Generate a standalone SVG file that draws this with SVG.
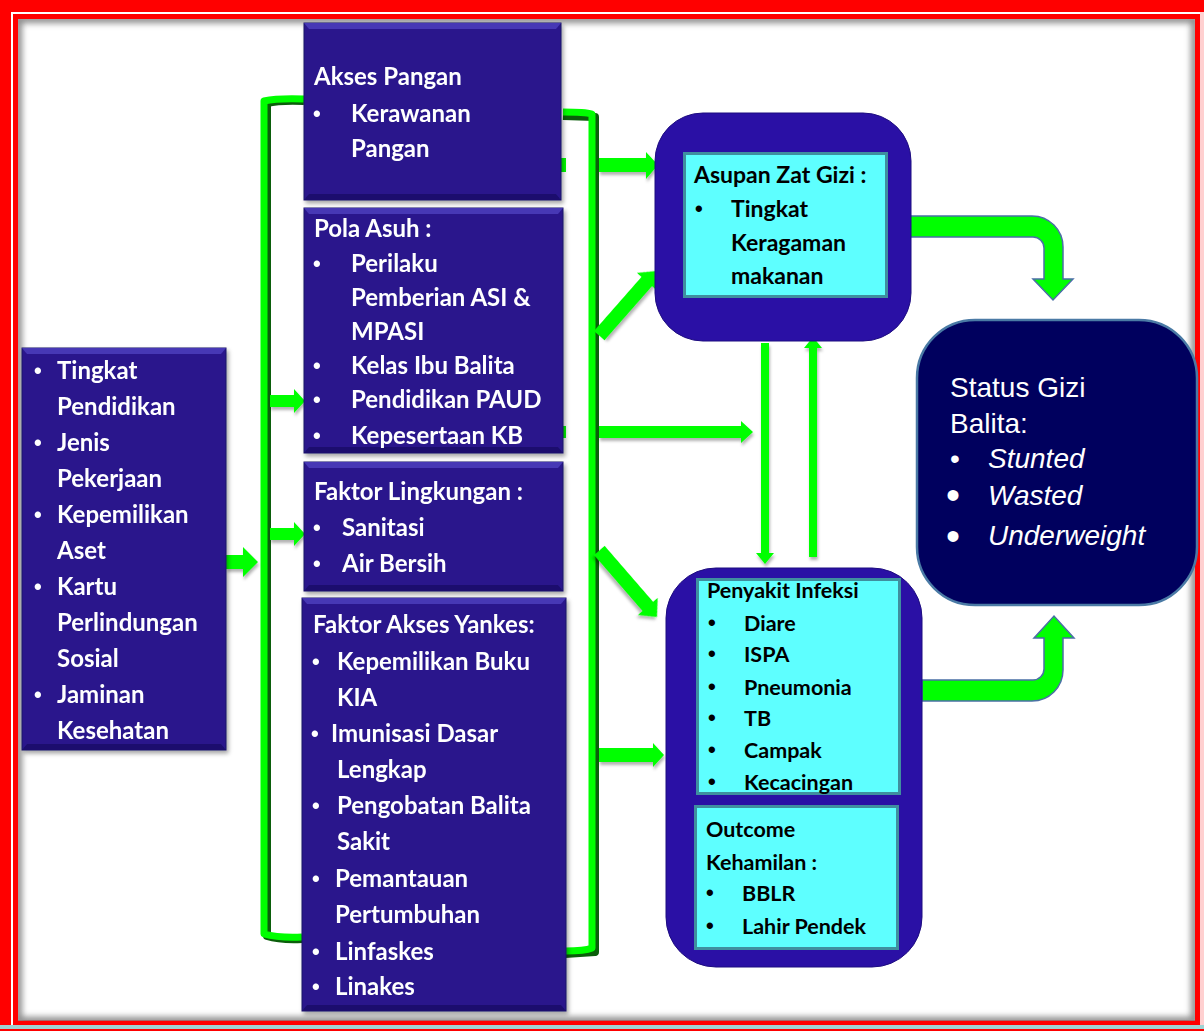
<svg xmlns="http://www.w3.org/2000/svg" width="1204" height="1031" viewBox="0 0 1204 1031">
<defs>
<style>
.nb{fill:#29198c;stroke:#1a0f66;stroke-width:1}
.hl{fill:#4637b5}
.dk{fill:#1c106e}
.wt{font-family:Lato,"Open Sans",sans-serif;font-weight:bold;font-size:24px;fill:#ffffff}
.bt{font-family:Lato,"Open Sans",sans-serif;font-weight:bold;font-size:23px;fill:#000000}
.bt2{font-family:Lato,"Open Sans",sans-serif;font-weight:bold;font-size:21.5px;fill:#000000}
.bu{font-family:"Liberation Sans",Arial,sans-serif;font-weight:bold;font-size:22px}
.st{font-family:"Liberation Sans",Arial,sans-serif;font-size:28px;fill:#ffffff}
.bb{font-size:40px}
.it{font-style:italic}
.cy{fill:#5effff;stroke:#3f8f9f;stroke-width:3}
.outer{fill:#2a10a5;stroke:#1d0c80;stroke-width:1}
.g{fill:#00ff00}
.gs{fill:none;stroke:#00ff00;stroke-width:7;stroke-linejoin:round}
.gd{fill:none;stroke:#0b5e0b;stroke-width:8;stroke-linejoin:round}
.ca{fill:#00ff00;stroke:#4a6fa5;stroke-width:1.5}
</style>
<filter id="sh" x="-10%" y="-10%" width="130%" height="130%">
<feDropShadow dx="2" dy="3" stdDeviation="2" flood-color="#000" flood-opacity="0.35"/>
</filter>
<filter id="ash" x="-20%" y="-40%" width="150%" height="200%">
<feDropShadow dx="1" dy="3" stdDeviation="1.5" flood-color="#000" flood-opacity="0.3"/>
</filter>
<filter id="blur"><feGaussianBlur stdDeviation="3"/></filter>
<clipPath id="inner"><rect x="18" y="19" width="1177" height="1002"/></clipPath>
</defs>

<!-- frame -->
<g id="frame">
<rect x="0" y="0" width="1204" height="1031" fill="#ffffff"/>
<rect x="1200" y="0" width="4" height="1031" fill="#ffd0d0"/>
<rect x="0" y="1025" width="1204" height="4" fill="#9fd3d3"/>
<rect x="0" y="1029" width="1204" height="2" fill="#ff0000"/>
<rect x="0" y="0" width="11" height="1025" fill="#ff0000"/>
<rect x="0" y="0" width="1204" height="12" fill="#ff0000"/>
<rect x="15.5" y="16.5" width="1182" height="1006" fill="none" stroke="#ff0000" stroke-width="5"/>
<g clip-path="url(#inner)">
<rect x="18" y="19" width="1177" height="1002" fill="none" stroke="#8a8a8a" stroke-width="8" filter="url(#blur)"/>
</g>
</g>

<!-- connectors -->
<g id="connectors">
<!-- left bracket -->
<path class="gd" d="M304,101 Q280,100 267,103 L267,936 Q280,940 302,939"/>
<path class="gs" d="M304,99 Q278,98 264,101 L264,934 Q278,938 302,937"/>
<!-- right bracket -->
<path class="gd" d="M563,116 L595,117 L595,952 L565,954"/>
<path class="gs" d="M563,112 Q585,112 592,114 L592,948 Q585,951 565,951"/>
<!-- left box to bracket -->
<polygon class="g" filter="url(#ash)" points="226,555 243,555 243,547 258,562 243,577 243,569 226,569"/>
<!-- bracket to Pola Asuh -->
<polygon class="g" filter="url(#ash)" points="270,395 294,395 294,389 305,401 294,413 294,407 270,407"/>
<!-- bracket to Faktor Lingkungan -->
<polygon class="g" filter="url(#ash)" points="270,528 294,528 294,522 305,534 294,546 294,540 270,540"/>
<!-- stubs -->
<rect class="g" x="561" y="158" width="5" height="14"/>
<rect class="g" x="561" y="426" width="5" height="12"/>
<!-- to Asupan horizontal -->
<polygon class="g" filter="url(#ash)" points="599,158 646,158 646,152 658,165 646,179 646,172 599,172"/>
<!-- to Asupan diagonal -->
<polygon class="g" filter="url(#ash)" transform="translate(656,271) rotate(-48.7)" points="-86,-7 -14,-7 -14,-13 0,0 -14,13 -14,7 -86,7"/>
<!-- horizontal to gap -->
<polygon class="g" filter="url(#ash)" points="599,426 741,426 741,421 753,432 741,443 741,438 599,438"/>
<!-- diagonal to Penyakit -->
<polygon class="g" filter="url(#ash)" transform="translate(657,617) rotate(49.1)" points="-88,-7 -14,-7 -14,-13 0,0 -14,13 -14,7 -88,7"/>
<!-- horizontal to Penyakit -->
<polygon class="g" filter="url(#ash)" points="599,748 653,748 653,743 664,755 653,767 653,762 599,762"/>
<!-- down arrow Asupan -> Penyakit -->
<polygon class="g" filter="url(#ash)" points="761,343 769,343 769,553 774,553 765,564 756,553 761,553"/>
<!-- up arrow Penyakit -> Asupan -->
<polygon class="g" filter="url(#ash)" points="809,557 817,557 817,348 822,348 813,337 804,348 809,348"/>
<!-- curved arrows to Status -->
<path class="ca" d="M910,216 L1032,216 A31,31 0 0 1 1063,247 L1063,279 L1073,279 L1053,300 L1033,279 L1044,279 L1044,248 A11,11 0 0 0 1033,237 L910,237 Z"/>
<path class="ca" d="M922,701 L1032,701 A31,31 0 0 0 1063,670 L1063,638 L1074,638 L1054,616 L1034,638 L1044,638 L1044,669 A11,11 0 0 1 1033,680 L922,680 Z"/>
</g>

<!-- left socio-economic node -->
<g id="node-sosial" filter="url(#sh)">
<rect class="nb" x="22" y="348" width="204" height="402"/>
<polygon class="hl" points="22,348 226,348 221,354 27,354"/>
<polygon class="dk" points="27,744 221,744 226,750 22,750"/>
<text class="wt bu" x="34" y="378">•</text><text class="wt" x="57" y="379">Tingkat</text>
<text class="wt" x="57" y="415">Pendidikan</text>
<text class="wt bu" x="34" y="450">•</text><text class="wt" x="57" y="451">Jenis</text>
<text class="wt" x="57" y="487">Pekerjaan</text>
<text class="wt bu" x="34" y="522">•</text><text class="wt" x="57" y="523">Kepemilikan</text>
<text class="wt" x="57" y="559">Aset</text>
<text class="wt bu" x="34" y="594">•</text><text class="wt" x="57" y="595">Kartu</text>
<text class="wt" x="57" y="631">Perlindungan</text>
<text class="wt" x="57" y="667">Sosial</text>
<text class="wt bu" x="34" y="702">•</text><text class="wt" x="57" y="703">Jaminan</text>
<text class="wt" x="57" y="739">Kesehatan</text>
</g>

<!-- Akses Pangan -->
<g id="node-akses-pangan" filter="url(#sh)">
<rect class="nb" x="304" y="23" width="257" height="177"/>
<polygon class="hl" points="304,23 561,23 556,29 309,29"/>
<polygon class="dk" points="309,194 556,194 561,200 304,200"/>
<text class="wt" x="314" y="85">Akses Pangan</text>
<text class="wt bu" x="313" y="121">•</text><text class="wt" x="351" y="122">Kerawanan</text>
<text class="wt" x="351" y="157">Pangan</text>
</g>

<!-- Pola Asuh -->
<g id="node-pola-asuh" filter="url(#sh)">
<rect class="nb" x="304" y="208" width="259" height="245"/>
<polygon class="hl" points="304,208 563,208 558,214 309,214"/>
<polygon class="dk" points="309,447 558,447 563,453 304,453"/>
<text class="wt" x="314" y="237">Pola Asuh :</text>
<text class="wt bu" x="313" y="271">•</text><text class="wt" x="351" y="272">Perilaku</text>
<text class="wt" x="351" y="306">Pemberian ASI &amp;</text>
<text class="wt" x="351" y="340">MPASI</text>
<text class="wt bu" x="313" y="373">•</text><text class="wt" x="351" y="374">Kelas Ibu Balita</text>
<text class="wt bu" x="313" y="407">•</text><text class="wt" x="351" y="408">Pendidikan PAUD</text>
<text class="wt bu" x="313" y="443">•</text><text class="wt" x="351" y="444">Kepesertaan KB</text>
</g>

<!-- Faktor Lingkungan -->
<g id="node-lingkungan" filter="url(#sh)">
<rect class="nb" x="304" y="462" width="259" height="129"/>
<polygon class="hl" points="304,462 563,462 558,468 309,468"/>
<polygon class="dk" points="309,585 558,585 563,591 304,591"/>
<text class="wt" x="314" y="500">Faktor Lingkungan :</text>
<text class="wt bu" x="313" y="535">•</text><text class="wt" x="342" y="536">Sanitasi</text>
<text class="wt bu" x="313" y="571">•</text><text class="wt" x="342" y="572">Air Bersih</text>
</g>

<!-- Faktor Akses Yankes -->
<g id="node-yankes" filter="url(#sh)">
<rect class="nb" x="302" y="598" width="264" height="413"/>
<polygon class="hl" points="302,598 566,598 561,604 307,604"/>
<polygon class="dk" points="307,1005 561,1005 566,1011 302,1011"/>
<text class="wt" x="313" y="633">Faktor Akses Yankes:</text>
<text class="wt bu" x="312" y="669">•</text><text class="wt" x="337" y="670">Kepemilikan Buku</text>
<text class="wt" x="337" y="706">KIA</text>
<text class="wt bu" x="311" y="741">•</text><text class="wt" x="331" y="742">Imunisasi Dasar</text>
<text class="wt" x="337" y="778">Lengkap</text>
<text class="wt bu" x="312" y="813">•</text><text class="wt" x="337" y="814">Pengobatan Balita</text>
<text class="wt" x="337" y="850">Sakit</text>
<text class="wt bu" x="312" y="886">•</text><text class="wt" x="335" y="887">Pemantauan</text>
<text class="wt" x="335" y="923">Pertumbuhan</text>
<text class="wt bu" x="312" y="959">•</text><text class="wt" x="335" y="960">Linfaskes</text>
<text class="wt bu" x="312" y="994">•</text><text class="wt" x="335" y="995">Linakes</text>
</g>

<!-- Asupan Zat Gizi -->
<g id="node-asupan">
<rect class="outer" x="655" y="113" width="256" height="228" rx="48" ry="48"/>
<rect class="cy" x="684.5" y="153.5" width="202" height="143"/>
<text class="bt" x="694" y="183">Asupan Zat Gizi :</text>
<text class="bt bu" x="695" y="216">•</text><text class="bt" x="731" y="217">Tingkat</text>
<text class="bt" x="731" y="251">Keragaman</text>
<text class="bt" x="731" y="284">makanan</text>
</g>

<!-- Penyakit Infeksi -->
<g id="node-penyakit">
<rect class="outer" x="666" y="568" width="256" height="399" rx="50" ry="50"/>
<rect class="cy" x="697.5" y="579.5" width="202" height="214"/>
<text class="bt2" x="707" y="598">Penyakit Infeksi</text>
<text class="bt2 bu" x="708" y="630">•</text><text class="bt2" x="744" y="631">Diare</text>
<text class="bt2 bu" x="708" y="661">•</text><text class="bt2" x="744" y="662">ISPA</text>
<text class="bt2 bu" x="708" y="694">•</text><text class="bt2" x="744" y="695">Pneumonia</text>
<text class="bt2 bu" x="708" y="725">•</text><text class="bt2" x="744" y="726">TB</text>
<text class="bt2 bu" x="708" y="757">•</text><text class="bt2" x="744" y="758">Campak</text>
<text class="bt2 bu" x="708" y="789">•</text><text class="bt2" x="744" y="790">Kecacingan</text>
</g>

<!-- Outcome Kehamilan -->
<g id="node-outcome">
<rect class="cy" x="695.5" y="806.5" width="202" height="142"/>
<text class="bt2" x="706" y="837">Outcome</text>
<text class="bt2" x="706" y="870">Kehamilan :</text>
<text class="bt2 bu" x="706" y="900">•</text><text class="bt2" x="742" y="901">BBLR</text>
<text class="bt2 bu" x="706" y="933">•</text><text class="bt2" x="742" y="934">Lahir Pendek</text>
</g>

<!-- Status Gizi Balita -->
<g id="node-status">
<rect x="917" y="320" width="280" height="285" rx="58" ry="58" fill="#00005e" stroke="#4a7aa5" stroke-width="2.5"/>
<text class="st" x="950" y="397">Status Gizi</text>
<text class="st" x="950" y="433">Balita:</text>
<text class="st" x="950" y="468">•</text><text class="st it" x="988" y="468">Stunted</text>
<text class="st bb" x="946" y="509">•</text><text class="st it" x="988" y="505">Wasted</text>
<text class="st bb" x="946" y="550">•</text><text class="st it" x="988" y="545">Underweight</text>
</g>
</svg>
